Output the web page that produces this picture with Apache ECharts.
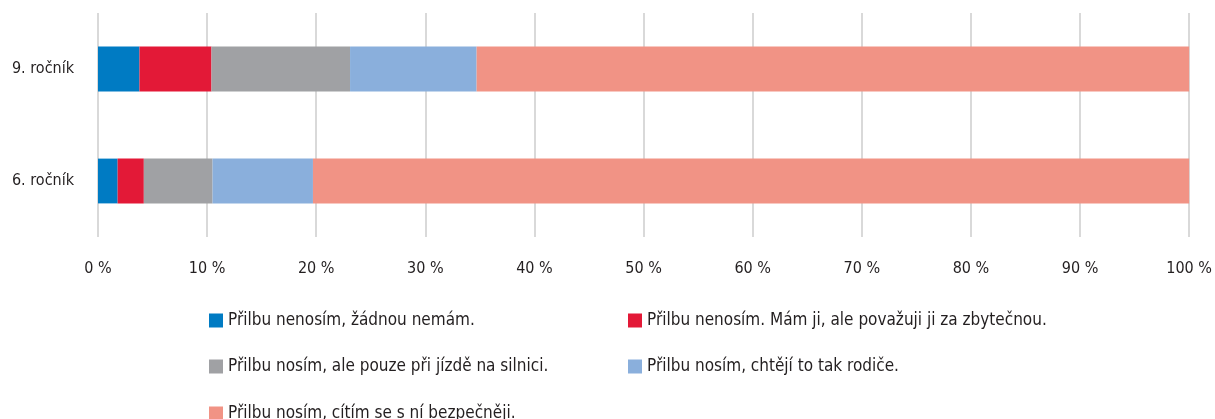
<!DOCTYPE html>
<html>
<head>
<meta charset="utf-8">
<script src="https://cdn.jsdelivr.net/npm/echarts@6/dist/echarts.min.js"></script>
<style>
  html, body { margin: 0; padding: 0; background: #fff; }
</style>
</head>
<body>
<div id="helmet-chart" style="width: 1215px; height: 419px;"></div>
<script>
// categories (bottom to top)
const categories = ['6. ročník', '9. ročník'];
const seriesNames = [
  'Přilbu nenosím, žádnou nemám.',
  'Přilbu nenosím. Mám ji, ale považuji ji za zbytečnou.',
  'Přilbu nosím, ale pouze při jízdě na silnici.',
  'Přilbu nosím, chtějí to tak rodiče.',
  'Přilbu nosím, cítím se s ní bezpečněji.'
];
// shares in %, [6. ročník, 9. ročník]
const noHelmet = [1.8, 3.8];
const useless = [2.4, 6.6];
const roadOnly = [6.3, 12.7];
const parents = [9.2, 11.6];
const safer = [80.3, 65.3];
const xTicks = [0, 10, 20, 30, 40, 50, 60, 70, 80, 90, 100];

const colors = ['#007BC3', '#E31937', '#A0A1A4', '#8AAFDC', '#F19385'];
const font = "'Liberation Sans Narrow', 'DejaVu Sans Condensed', sans-serif";

const chart = echarts.init(document.getElementById('helmet-chart'));

const values = [noHelmet, useless, roadOnly, parents, safer];

// legend laid out as two columns, one legend box per item
const legendPos = [
  [209, 312], [628, 312],
  [209, 358], [628, 358],
  [209, 405]
];

let option = {
  color: colors,
  animation: false,
  textStyle: { fontFamily: font },
  grid: {
    left: 98,
    right: 25,
    top: 13,
    bottom: 182,
    containLabel: false
  },
  legend: seriesNames.map((name, i) => ({
    data: [name],
    left: legendPos[i][0],
    top: legendPos[i][1],
    padding: 0,
    itemWidth: 14,
    itemHeight: 14,
    icon: 'rect',
    textStyle: { fontSize: 17, lineHeight: 16, color: '#231F20', fontFamily: font }
  })),
  xAxis: {
    type: 'value',
    min: xTicks[0],
    max: xTicks[xTicks.length - 1],
    interval: 10,
    axisLine: { show: false },
    axisTick: { show: false },
    axisLabel: {
      formatter: '{value} %',
      fontSize: 16,
      color: '#231F20',
      margin: 24,
      fontFamily: font
    },
    splitLine: {
      lineStyle: { color: '#D9D9D9', width: 2 }
    }
  },
  yAxis: {
    type: 'category',
    data: categories,
    axisLine: { show: false },
    axisTick: { show: false },
    axisLabel: {
      fontSize: 16,
      color: '#231F20',
      margin: 24,
      fontFamily: font
    },
    splitLine: { show: false }
  },
  series: seriesNames.map((name, i) => ({
    name: name,
    type: 'bar',
    stack: 'total',
    barWidth: '40%',
    data: values[i]
  }))
};

chart.setOption(option);
</script>
</body>
</html>
